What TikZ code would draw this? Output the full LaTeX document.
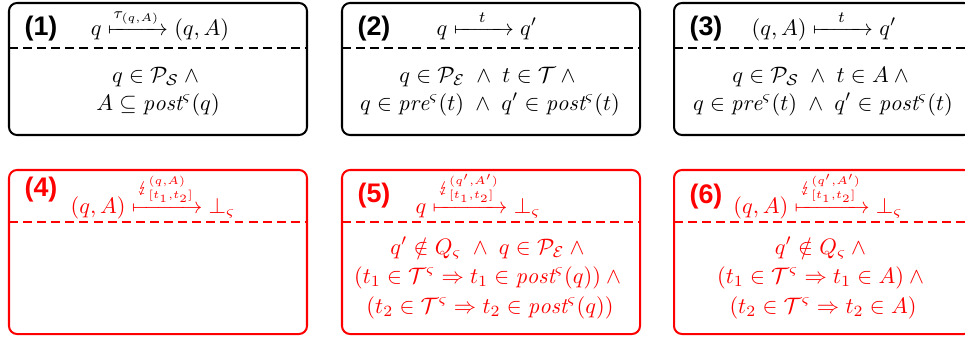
\documentclass[tikz,border=0pt]{standalone}
\usepackage{amsmath,amssymb}
\usepackage{mathtools}
\usepackage{stmaryrd}
\usepackage{fontspec}
\newfontfamily\tagfont{Liberation Sans}
\usetikzlibrary{positioning}
\definecolor{errred}{RGB}{255,0,0}
\newcommand{\pst}{\mathit{post}^{\varsigma}}
\newcommand{\prs}{\mathit{pre}^{\varsigma}}
\newcommand{\andsp}{\;\wedge\;}

\begin{document}
\begin{tikzpicture}[x=0.447pt,y=-0.447pt,
  box/.style={draw,line width=0.9pt,rounded corners=3.6pt},
  sep/.style={line width=0.9pt,dash pattern=on 4pt off 2.3pt},
  tag/.style={font=\tagfont\bfseries\fontsize{12pt}{14pt}\selectfont,anchor=base},
  cond/.style={anchor=base,inner sep=0pt}]
  \useasboundingbox (0,0) rectangle (965,337);
  % well-formed steps
  \foreach \x in {9,342,674} {
    \draw[box] (\x,3) rectangle ++(298,132);
    \draw[sep] (\x,48) -- ++(298,0);
  }
  \node[tag] (n1) at (41,35) {(1)};
  \node[tag] (n2) at (374,35) {(2)};
  \node[tag] (n3) at (706,35) {(3)};
  \node[cond] (h1) at (160,35) {$q \xmapsto{\tau_{(q,A)}} (q,A)$};
  \node[cond] (h2) at (487,35) {$q \xmapsto[\hphantom{\tau_{(q,A)}}]{t} q'$};
  \node[cond] (h3) at (824,35) {$(q,A) \xmapsto[\hphantom{\tau_{(q,A)}}]{t} q'$};
  \node[cond] (c1a) at (158,82) {$q \in \mathcal{P}_{\mathcal{S}} \wedge{}$};
  \node[cond] (c1b) at (158,110) {$A \subseteq \pst(q)$};
  \node[cond] (c2a) at (490,82) {$q \in \mathcal{P}_{\mathcal{E}} \andsp t \in \mathcal{T} \wedge{}$};
  \node[cond] (c2b) at (490,110) {$q \in \prs(t) \andsp q' \in \pst(t)$};
  \node[cond] (c3a) at (823,82) {$q \in \mathcal{P}_{\mathcal{S}} \andsp t \in A \wedge{}$};
  \node[cond] (c3b) at (823,110) {$q \in \prs(t) \andsp q' \in \pst(t)$};
  % error steps
  \begin{scope}[errred]
    \foreach \x in {9,342,674} {
      \draw[box] (\x,170) rectangle ++(298,164);
      \draw[sep] (\x,222) -- ++(298,0);
    }
    \node[tag,errred] (n4) at (41,196) {(4)};
    \node[tag,errred] (n5) at (374,202) {(5)};
    \node[tag,errred] (n6) at (706,203) {(6)};
    \node[cond,errred] (h4) at (153,213) {$(q,A) \xmapsto{\lightning^{(q,A)}_{[t_1,t_2]}} \bot_{\varsigma}$};
    \node[cond,errred] (h5) at (478,213) {$q \xmapsto{\lightning^{(q',A')}_{[t_1,t_2]}} \bot_{\varsigma}$};
    \node[cond,errred] (h6) at (818,213) {$(q,A) \xmapsto{\lightning^{(q',A')}_{[t_1,t_2]}} \bot_{\varsigma}$};
    \node[cond,errred] (c5a) at (490,254) {$q' \notin Q_{\varsigma} \andsp q \in \mathcal{P}_{\mathcal{E}} \wedge{}$};
    \node[cond,errred] (c5b) at (490,283) {$(t_1 \in \mathcal{T}^{\varsigma} \Rightarrow t_1 \in \pst(q)) \wedge{}$};
    \node[cond,errred] (c5c) at (490,313) {$(t_2 \in \mathcal{T}^{\varsigma} \Rightarrow t_2 \in \pst(q))$};
    \node[cond,errred] (c6a) at (823,254) {$q' \notin Q_{\varsigma} \wedge{}$};
    \node[cond,errred] (c6b) at (823,283) {$(t_1 \in \mathcal{T}^{\varsigma} \Rightarrow t_1 \in A) \wedge{}$};
    \node[cond,errred] (c6c) at (823,313) {$(t_2 \in \mathcal{T}^{\varsigma} \Rightarrow t_2 \in A)$};
  \end{scope}
\end{tikzpicture}
\end{document}
